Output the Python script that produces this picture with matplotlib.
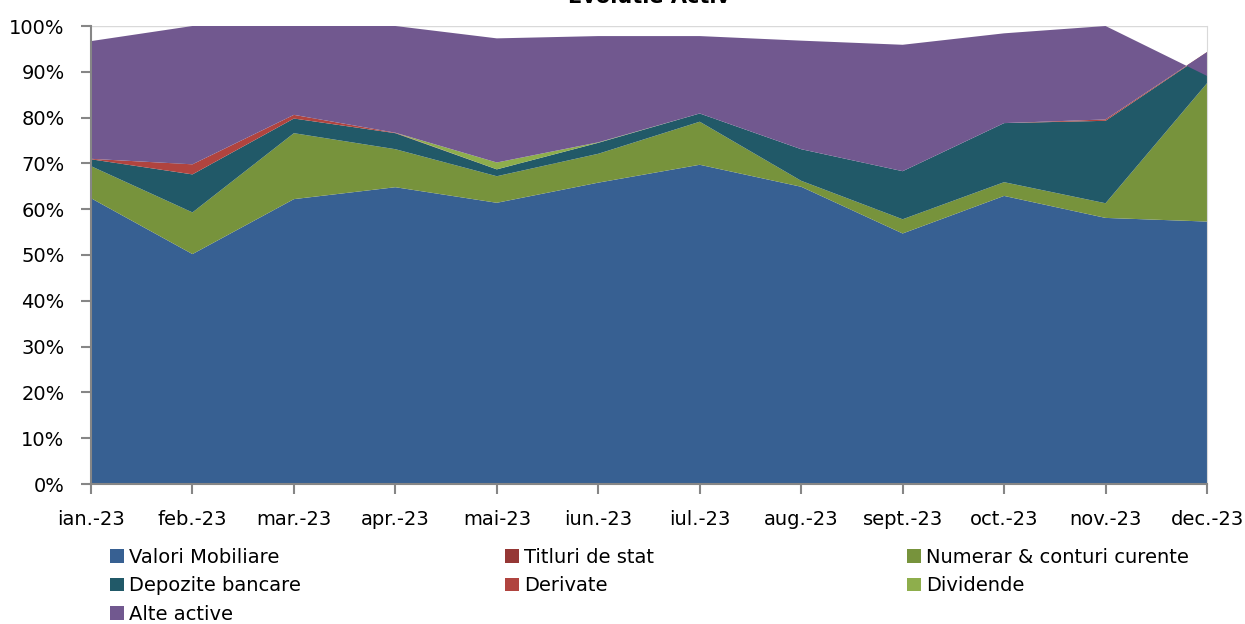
import matplotlib
matplotlib.use('Agg')
from matplotlib import pyplot as plt
from matplotlib.patches import Patch
from matplotlib.ticker import PercentFormatter

# Months
months = ['ian.-23', 'feb.-23', 'mar.-23', 'apr.-23', 'mai-23', 'iun.-23',
          'iul.-23', 'aug.-23', 'sept.-23', 'oct.-23', 'nov.-23', 'dec.-23']

# Share of assets (%) per category
valori_mobiliare = [62.4, 50.2, 62.2, 64.8, 61.4, 65.8, 69.7, 64.9, 54.7, 62.9, 58.1, 57.3]
titluri_de_stat = [0, 0, 0, 0, 0, 0, 0, 0, 0, 0, 0, 0]
numerar = [7.0, 9.1, 14.4, 8.3, 5.8, 6.3, 9.4, 1.3, 3.1, 3.0, 3.2, 30.2]
depozite = [1.5, 8.3, 3.2, 3.5, 1.5, 2.4, 1.8, 6.9, 10.5, 12.9, 18.0, 6.7]
derivate = [0.1, 2.2, 0.8, 0.1, 0, 0, 0, 0, 0, 0, 0.3, 0.1]
dividende = [0, 0, 0, 0, 1.5, 0.1, 0, 0, 0, 0, 0, 0]
alte_active = [25.7, 30.2, 19.4, 23.3, 27.1, 23.2, 16.9, 23.7, 27.6, 19.6, 20.4, -5.2]

labels = ['Valori Mobiliare', 'Titluri de stat', 'Numerar & conturi curente',
          'Depozite bancare', 'Derivate', 'Dividende', 'Alte active']
colors = ['#376092', '#953735', '#77933C', '#215968', '#B0443F', '#8EAE4C', '#71588F']

fig = plt.figure(figsize=(12.45, 6.24), dpi=100)
ax = fig.add_axes([91 / 1245, 1 - 484 / 624, (1207 - 91) / 1245, (484 - 26) / 624])

x = list(range(len(months)))
series = [valori_mobiliare, titluri_de_stat, numerar, depozite, derivate, dividende, alte_active]
ax.stackplot(x, *series, colors=colors, linewidth=0, zorder=2)

ax.set_xlim(0, len(months) - 1)
ax.set_ylim(0, 100)
ax.set_yticks(range(0, 101, 10))
ax.yaxis.set_major_formatter(PercentFormatter(decimals=0))
ax.set_xticks(x)
ax.set_xticklabels(months)
ax.grid(axis='y', color='#D9D9D9', linewidth=1, zorder=0)
ax.set_axisbelow(True)

ax.spines['top'].set_visible(False)
ax.spines['right'].set_color('#D9D9D9')
ax.spines['left'].set_color('#868686')
ax.spines['bottom'].set_color('#868686')
ax.spines['left'].set_linewidth(1.5)
ax.spines['bottom'].set_linewidth(1.5)
ax.tick_params(axis='both', colors='#868686', labelcolor='black', labelsize=14,
               length=7, width=1.5)
ax.tick_params(axis='x', pad=12)
ax.tick_params(axis='y', pad=12)

# title sits mostly above the picture, as in the original export
fig.text(649 / 1245, 1 - 3 / 624, 'Evolutie Activ', ha='center', va='baseline',
         fontsize=15, fontweight='bold')

# Legend, three columns laid out row by row
columns = [(110, [0, 3, 6]), (505, [1, 4]), (907, [2, 5])]
for x0, idx in columns:
    handles = [Patch(facecolor=colors[i], edgecolor='none', label=labels[i]) for i in idx]
    fig.legend(handles=handles, loc='upper left', bbox_to_anchor=(x0 / 1245, 1 - 548 / 624),
               frameon=False, fontsize=14, handlelength=0.7, handleheight=0.7,
               handletextpad=0.3, labelspacing=0.48, borderaxespad=0, borderpad=0)

fig.savefig('out.png', dpi=100)
